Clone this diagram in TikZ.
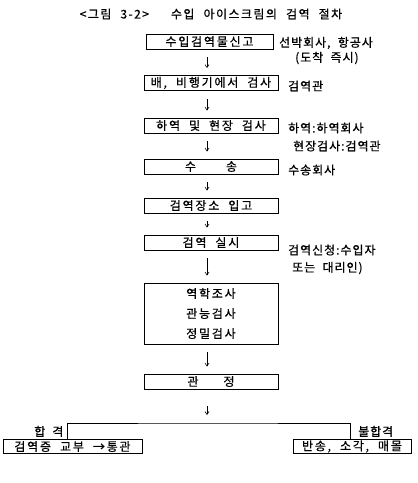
\documentclass[tikz,border=0pt]{standalone}
\usepackage{fontspec}
\setmainfont{Noto Sans CJK KR}[WordSpace=2, FakeBold=0.6]
\newfontfamily\stagefont{Noto Sans CJK KR}[LetterSpace=15, WordSpace=2, FakeBold=0.6]
\newfontfamily\notefont{Noto Sans CJK KR}[LetterSpace=8, WordSpace=2, FakeBold=0.6]
\newfontfamily\titlefont{Noto Sans CJK KR}[LetterSpace=12, WordSpace=2.2, FakeBold=0.6]
\usetikzlibrary{arrows.meta, positioning, calc}

\begin{document}
\begin{tikzpicture}[x=1pt, y=-1pt,
  stage/.style={draw, line width=0.8pt, minimum width=134pt,
    minimum height=15pt, inner sep=0pt, font=\stagefont\fontsize{12}{20}\selectfont},
  note/.style={anchor=west, inner sep=0pt, font=\notefont\fontsize{12}{14}\selectfont},
  arr/.style={-{Straight Barb[length=3pt,width=4pt]}, line width=0.6pt,
    shorten <=8pt, shorten >=7pt},
  link/.style={line width=0.8pt}
]
  \useasboundingbox (0,0) rectangle (418,483);

  % Title
  \node[font=\titlefont\fontsize{12}{14}\selectfont] (title) at (211,14)
    {<그림 3-2>\hspace{22pt}수입 아이스크림의 검역 절차};

  % Steps
  \node[stage, minimum width=127pt] (s1) at (209.5,41.5) {수입검역물신고};
  \node[stage] (s2) at (211,83)    {배, 비행기에서 검사};
  \node[stage] (s3) at (211,125.5) {하역 및 현장 검사};
  \node[stage] (s4) at (211,166.5) {수\hspace{30pt}송};
  \node[stage] (s5) at (211,205.5) {검역장소 입고};
  \node[stage] (s6) at (211,242.5) {검역 실시};
  \node[stage, minimum height=61pt, align=center] (s7) at (211,313.5)
    {역학조사\\관능검사\\정밀검사};
  \node[stage] (s8) at (211,381.5) {관\hspace{25pt}정};

  % Arrows between steps
  \draw[arr] ([xshift=-2.5pt]s1.south) -- ([xshift=-4pt]s2.north);
  \draw[arr] ([xshift=-4pt]s2.south) -- ([xshift=-4pt]s3.north);
  \draw[arr] ([xshift=-4pt]s3.south) -- ([xshift=-4pt]s4.north);
  \draw[arr] ([xshift=-4pt]s4.south) -- ([xshift=-4pt]s5.north);
  \draw[arr] ([xshift=-4pt]s5.south) -- ([xshift=-4pt]s6.north);
  \draw[arr] ([xshift=-4pt]s6.south) -- ([xshift=-4pt]s7.north);
  \draw[arr] ([xshift=-4pt]s7.south) -- ([xshift=-4pt]s8.north);

  % Who does what
  \node[note] (n1)  at (279,43)  {선박회사, 항공사};
  \node[note] (n1b) at (295,58)  {(도착 즉시)};
  \node[note] (n2)  at (288,86)  {검역관};
  \node[note] (n3)  at (288,128) {하역:하역회사};
  \node[note] (n3b) at (293,146) {현장검사:검역관};
  \node[note] (n4)  at (288,170) {수송회사};
  \node[note] (n6)  at (288,250) {검역신청:수입자};
  \node[note] (n6b) at (292,268) {또는 대리인)};

  % Result
  \node[stage, minimum width=139pt, minimum height=14pt] (pass) at (72.5,446.5)
    {검역증 교부 →통관};
  \node[stage, minimum width=118pt, minimum height=14pt] (fail) at (352,446.5)
    {반송, 소각, 매몰};
  \coordinate (split) at (207,423);
  \draw[arr, shorten <=17pt, shorten >=8pt] ([xshift=-4pt]s8.south) -- (split);
  \draw[link] ([xshift=-5pt]pass.north) |- (split) -| ([xshift=-2pt]fail.north);
  \node[note, anchor=south east] (passlbl) at ([xshift=-9pt,yshift=2pt]pass.north)
    {합\hspace{7pt}격};
  \node[note, anchor=south west] (faillbl) at ([xshift=6pt,yshift=2pt]fail.north)
    {불합격};
\end{tikzpicture}
\end{document}
